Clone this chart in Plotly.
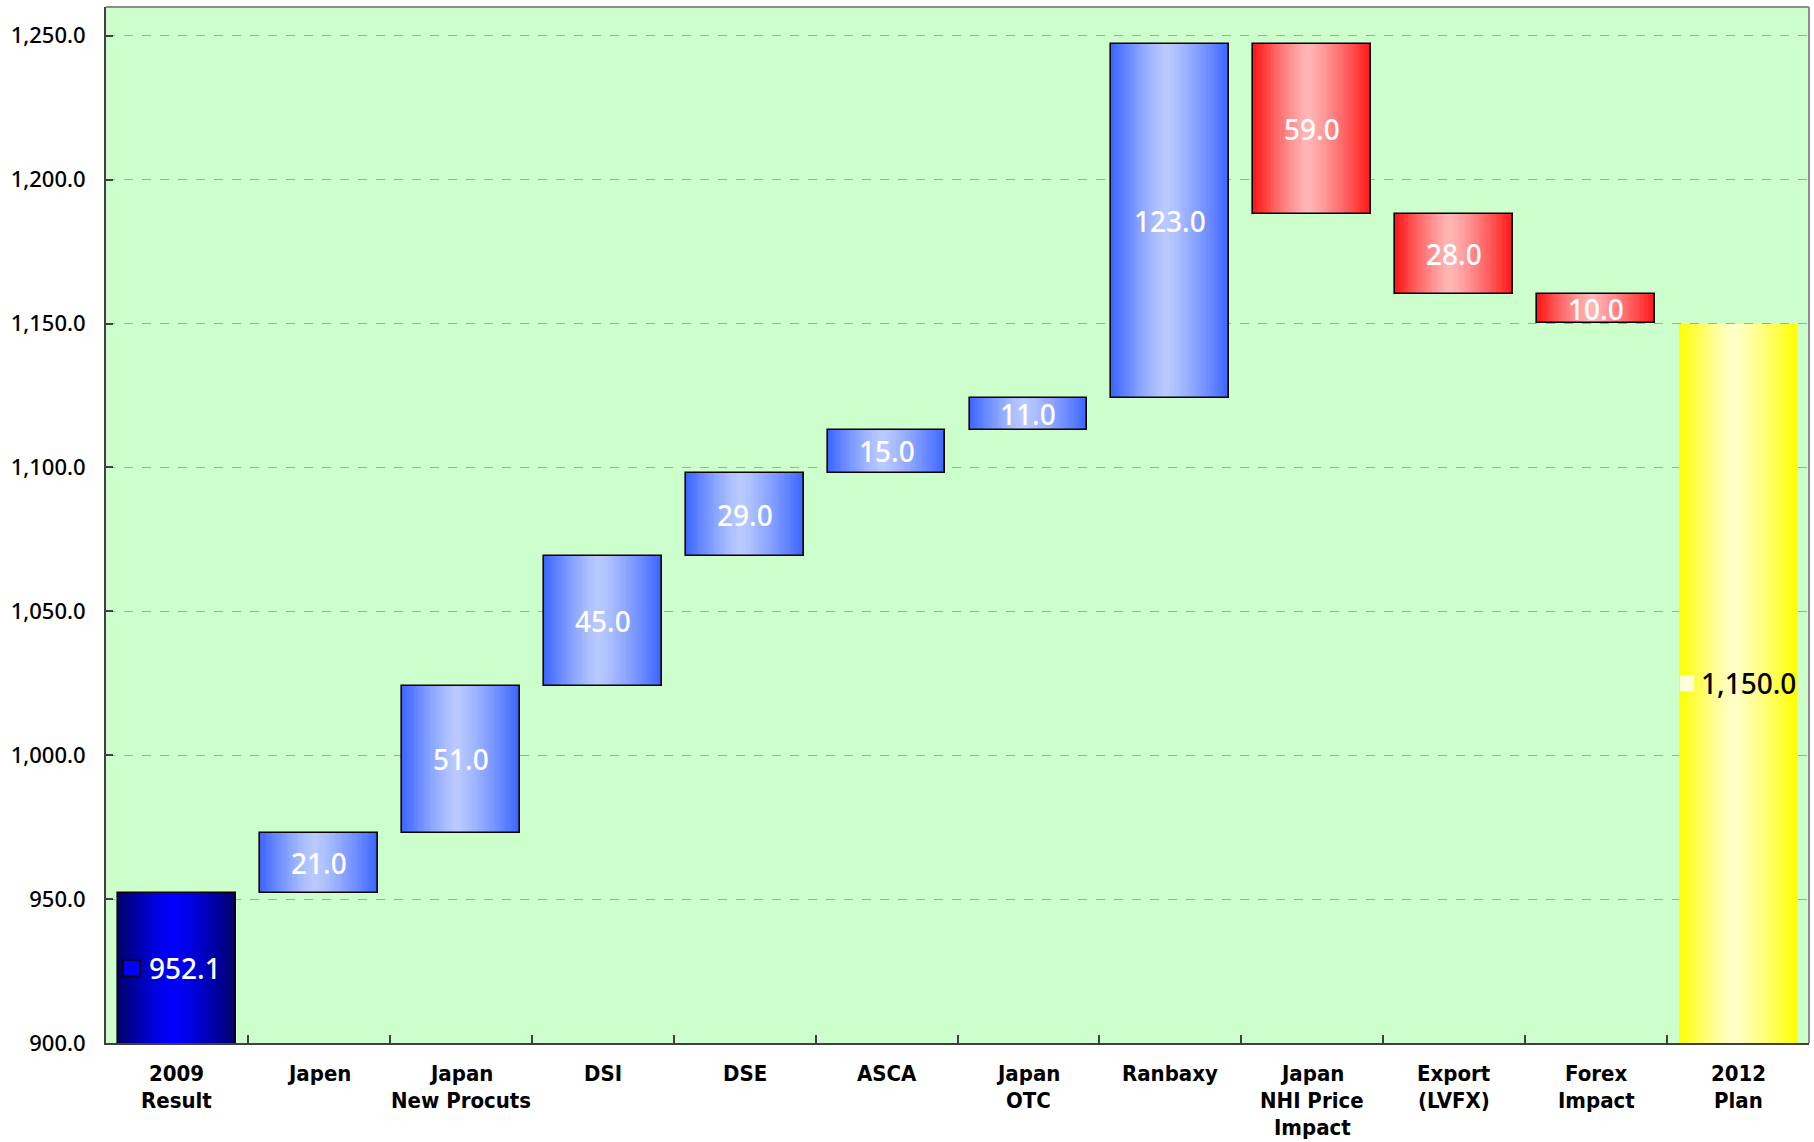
import plotly.graph_objects as go

# ---------------- data ----------------
categories = ["2009<br>Result", "Japen", "Japan<br>New Procuts", "DSI", "DSE", "ASCA",
              "Japan<br>OTC", "Ranbaxy", "Japan<br>NHI Price<br>Impact", "Export<br>(LVFX)",
              "Forex<br>Impact", "2012<br>Plan"]
values = [952.1, 21.0, 51.0, 45.0, 29.0, 15.0, 11.0, 123.0, -59.0, -28.0, -10.0, 1150.0]
measures = ["total", "relative", "relative", "relative", "relative", "relative",
            "relative", "relative", "relative", "relative", "relative", "total"]
y_ticks = [900, 950, 1000, 1050, 1100, 1150, 1200, 1250]
y_range = [900, 1260]

# ---------------- styles ----------------
BAR_W = 0.83
N_STRIPS = 48
PEAK = 0.46
grad = {
    "start": ((0, 0, 105), (0, 0, 255)),
    "up": ((58, 100, 255), (186, 202, 255)),
    "down": ((255, 20, 20), (255, 182, 182)),
    "end": ((255, 255, 0), (255, 255, 200)),
}
label_colors = {"start": "white", "up": "white", "down": "white", "end": "black"}
VALUE_FONT = "Noto Sans, Roboto, sans-serif"
CAT_FONT = "Liberation Sans Narrow, DejaVu Sans Condensed, sans-serif"

# waterfall geometry from the data
bases, tops, kinds = [], [], []
running = 0.0
for i, (v, m) in enumerate(zip(values, measures)):
    if m == "total":
        b, t = 0.0, v
        running = v
        kinds.append("start" if i == 0 else "end")
    else:
        b, t = (running, running + v) if v >= 0 else (running + v, running)
        running += v
        kinds.append("up" if v >= 0 else "down")
    bases.append(b)
    tops.append(t)

xs = list(range(len(categories)))


def colour(kind, u):
    edge, centre = grad[kind]
    if u <= PEAK:
        t = (PEAK - u) / PEAK
    else:
        t = (u - PEAK) / (1 - PEAK)
    t = t ** 1.25
    c = [round(centre[k] + (edge[k] - centre[k]) * t) for k in range(3)]
    return f"rgb({c[0]},{c[1]},{c[2]})"


fig = go.Figure()

# gradient strips: each layer starts further right and runs to the bar's right edge
for s in range(N_STRIPS):
    left = -BAR_W / 2 + s * BAR_W / N_STRIPS
    u = (s + 0.5) / N_STRIPS
    fig.add_trace(go.Bar(
        x=xs, y=[t - b for t, b in zip(tops, bases)], base=bases,
        width=BAR_W / 2 - left, offset=left,
        marker=dict(color=[colour(k, u) for k in kinds], line=dict(width=0)),
        hoverinfo="skip", showlegend=False,
    ))

# outlines
fig.add_trace(go.Bar(
    x=xs, y=[t - b for t, b in zip(tops, bases)], base=bases,
    width=BAR_W, offset=-BAR_W / 2,
    marker=dict(color="rgba(0,0,0,0)",
                line=dict(color="black", width=[0 if k == "end" else 1.6 for k in kinds])),
    hoverinfo="skip", showlegend=False,
))

annotations = []
shapes = []
for i, (v, b, t, k) in enumerate(zip(values, bases, tops, kinds)):
    lo = max(b, y_range[0])
    mid = (lo + t) / 2
    xshift = 0
    if k in ("start", "end"):
        xshift = 8 if k == "start" else 10
        key_fill = "#0000ff" if k == "start" else "#ffffd8"
        key_line = 1.6 if k == "start" else 0
        kx0, kx1 = (-54, -37) if k == "start" else (-58, -44)
        shapes.append(dict(type="rect", xref="x", yref="y", xsizemode="pixel", ysizemode="pixel",
                           xanchor=i, yanchor=mid, x0=kx0, x1=kx1, y0=-8, y1=8,
                           fillcolor=key_fill, line=dict(color="black", width=key_line),
                           layer="above"))
    annotations.append(dict(
        x=i, y=mid, xref="x", yref="y", text=f"{abs(v):,.1f}", showarrow=False,
        xshift=xshift, font=dict(family=VALUE_FONT, size=28, color=label_colors[k], weight=500),
    ))

# category labels, one line at a time for tight line spacing
for i, cat in enumerate(categories):
    for j, line in enumerate(cat.split("<br>")):
        annotations.append(dict(
            x=i, y=0, xref="x", yref="paper", yanchor="top", text=line, showarrow=False,
            yshift=-16 - 27 * j,
            font=dict(family=CAT_FONT, size=22, color="black", weight="bold"),
        ))

# top and right border of plot area
shapes.append(dict(type="line", xref="paper", yref="paper", x0=0, x1=1, y0=1, y1=1,
                   line=dict(color="#8c8c8c", width=2), layer="above"))
shapes.append(dict(type="line", xref="paper", yref="paper", x0=1, x1=1, y0=0, y1=1,
                   line=dict(color="#8c8c8c", width=2), layer="above"))

fig.update_layout(
    width=1814, height=1142,
    margin=dict(l=106, r=5, t=7, b=99),
    paper_bgcolor="white", plot_bgcolor="#ccffcc",
    barmode="overlay", bargap=0,
    showlegend=False,
    annotations=annotations, shapes=shapes,
    xaxis=dict(type="category", range=[-0.5, len(categories) - 0.5],
               tickmode="array", tickvals=xs, ticktext=[""] * len(xs),
               tickson="boundaries", ticks="inside", ticklen=8, tickcolor="#404040", tickwidth=1.5,
               showticklabels=False, showgrid=False, zeroline=False,
               showline=True, linecolor="#404040", linewidth=2),
    yaxis=dict(range=y_range, tickvals=y_ticks, tickformat=",.1f",
               ticks="inside", ticklen=7, tickcolor="#404040", tickwidth=1.5,
               ticklabelstandoff=14,
               tickfont=dict(family=VALUE_FONT, size=22, color="black", weight=500),
               showgrid=True, gridcolor="#a8a8a8", griddash="dash", gridwidth=1,
               zeroline=False, showline=True, linecolor="#404040", linewidth=2),
)

fig.write_html("out.html")
